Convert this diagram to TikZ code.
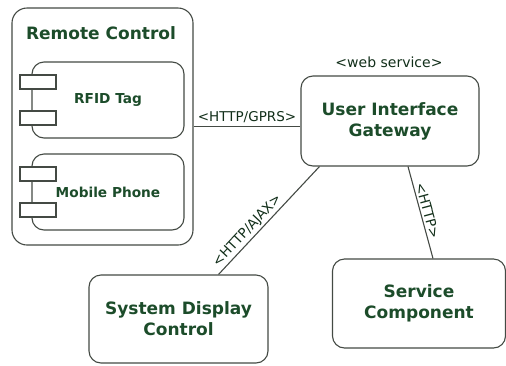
\documentclass[tikz,border=0pt]{standalone}
\usepackage{fontspec}
\setmainfont{DejaVu Sans}
\definecolor{darkgreen}{RGB}{28,76,42}
\definecolor{linegray}{RGB}{68,74,68}
\tikzset{
  box/.style={draw=linegray,line width=1.1pt,rounded corners=12pt,fill=white,
    text=darkgreen,align=center,font=\fontsize{17}{21}\selectfont\bfseries},
  part/.style={box,minimum width=152pt,minimum height=76pt,
    font=\fontsize{13.7}{16}\selectfont\bfseries},
  tab/.style={draw=linegray,line width=1.1pt,fill=white,minimum width=36pt,minimum height=14pt,inner sep=0pt},
  proto/.style={text=darkgreen!60!black,font=\fontsize{13.5}{16}\selectfont,inner sep=2pt},
  link/.style={draw=linegray,line width=1.1pt}
}
\begin{document}
\begin{tikzpicture}[x=1pt,y=-1pt]
  \useasboundingbox (0,0) rectangle (506,365);
  % remote control package
  \node[box,rounded corners=15pt,minimum width=181pt,minimum height=237pt] (remote) at (102.5,126.5) {};
  \node[text=darkgreen,font=\fontsize{17}{21}\selectfont\bfseries] (remotetitle) at (101,33) {Remote Control};
  \node[part] (rfid) at (108,100) {RFID Tag};
  \node[tab] (rfidtaba) at (38,82) {};
  \node[tab] (rfidtabb) at (38,118) {};
  \node[part] (phone) at (108,192) {Mobile Phone};
  \node[tab] (phonetaba) at (38,174) {};
  \node[tab] (phonetabb) at (38,210) {};
  % servers
  \node[box,minimum width=178pt,minimum height=90pt] (gateway) at (390,121) {User Interface\\Gateway};
  \node[proto,font=\fontsize{14}{16}\selectfont] (websrv) at (389,62) {<web service>};
  \node[box,minimum width=179pt,minimum height=88pt] (display) at (178.5,319) {System Display\\Control};
  \node[box,minimum width=173pt,minimum height=89pt] (service) at (419,303.5) {Service\\Component};
  % connections
  \draw[link] (remote.east) -- node[proto,above=1pt] {<HTTP/GPRS>} (remote.east -| gateway.west);
  \draw[link] ([xshift=19pt]gateway.south west) -- node[proto,pos=0.65,sloped,above] {<HTTP/AJAX>} ([xshift=40pt]display.north);
  \draw[link] ([xshift=18pt]gateway.south) -- node[proto,midway,sloped,above] {<HTTP>} ([xshift=14pt]service.north);
\end{tikzpicture}
\end{document}
